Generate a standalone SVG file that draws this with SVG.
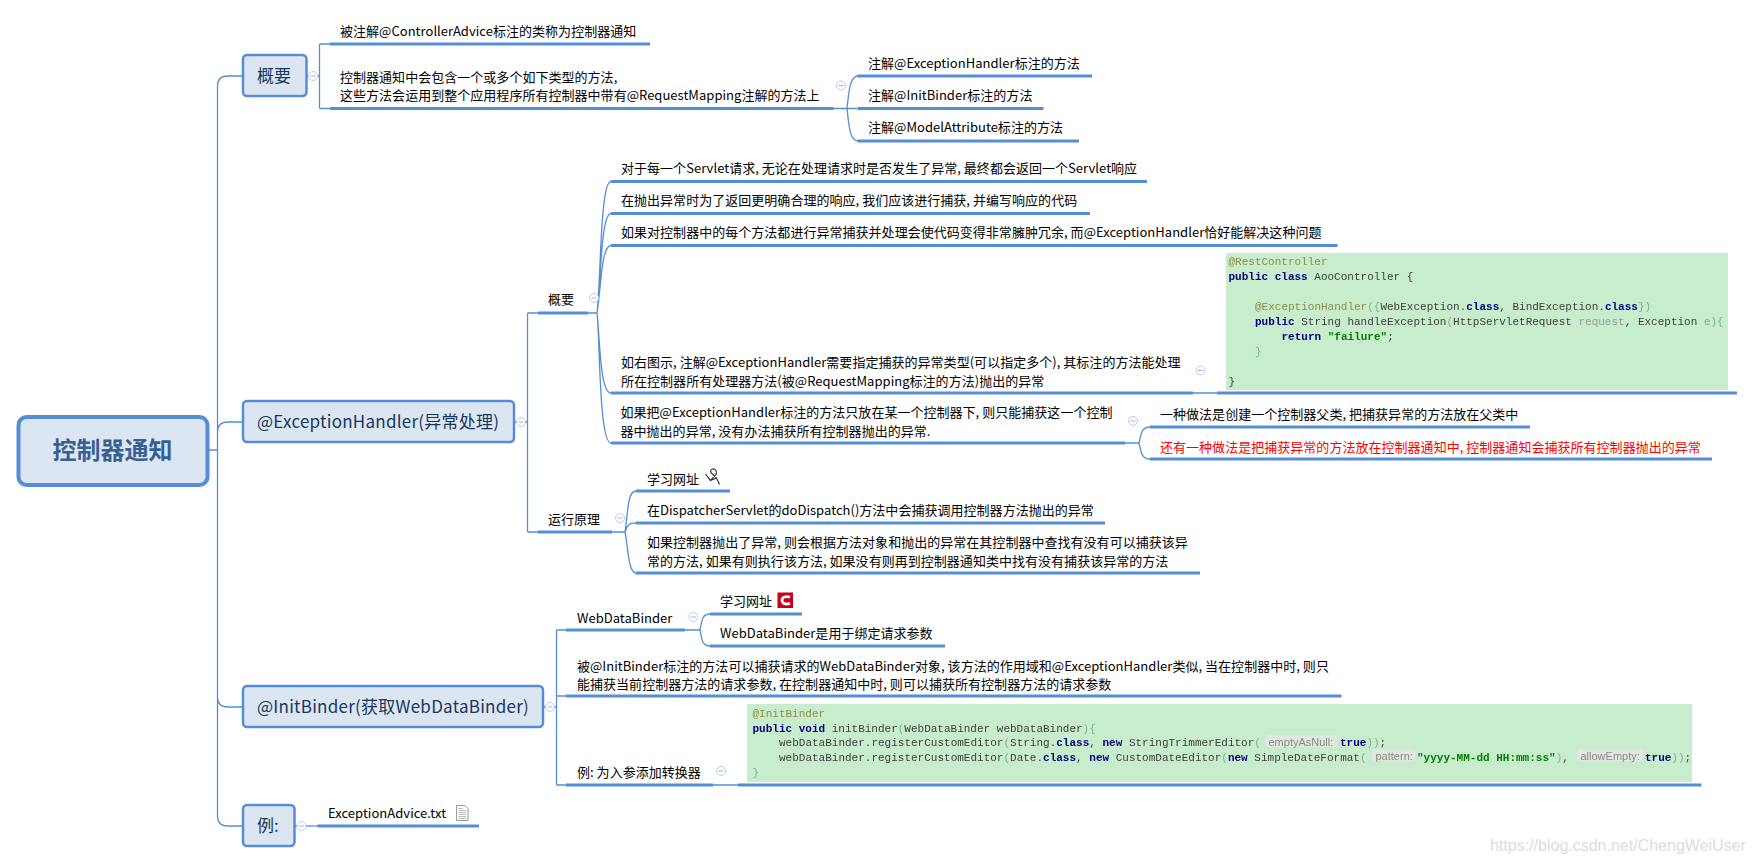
<svg xmlns="http://www.w3.org/2000/svg" width="1755" height="863" viewBox="0 0 1755 863">
<defs>
<filter id="soft" x="-2%" y="-5%" width="104%" height="110%"><feGaussianBlur stdDeviation="0.3"/></filter>
</defs>
<style>
text{font-family:"Noto Sans CJK SC","Noto Sans",sans-serif;font-size:13px;fill:#000;letter-spacing:.03px}
.top{fill:#dce6f2;stroke:#558ed5;stroke-width:2.5}
.topt{font-size:17px;fill:#17375e}
.wide{letter-spacing:.25px}
.roott{font-size:24px;font-weight:700;fill:#376092;text-anchor:middle}
.u{fill:none;stroke:#558ed5;stroke-width:3}
.c{fill:none;stroke:#558ed5;stroke-width:1.3}
.col{fill:#fff;stroke:#b9cdf0;stroke-width:1}
.colm{stroke:#9db8e6;stroke-width:1}
.code{fill:#c7edcc}
.code text,text.m{font-family:"Liberation Mono",monospace;font-size:11px;fill:#404040;white-space:pre;letter-spacing:0}
.an{fill:#8f8f45!important}
.k{fill:#000080!important;font-weight:700}
.s{fill:#008000!important;font-weight:700}
.g{fill:#9a9a9a!important}
.p{fill:#7fb0a0!important}
.hb{fill:#dfe9df}
.h{font-family:"Liberation Sans",sans-serif!important;font-size:12px;fill:#8a8a8a!important}
</style>
<rect width="1755" height="863" fill="#fff"/>
<g id="connectors">
<path class="c" d="M209 450H217.5M228 76Q217.5 76 217.5 86V816Q217.5 826 228 826H243M228 76H243M217.5 432Q217.5 422 228 422H243M217.5 697Q217.5 707 228 707H243"/>
<path class="c" d="M306 76H319.5M319.5 44V108.5M319.5 44H330M319.5 108.5H330"/>
<path class="c" d="M833 108.5H857M847 108.5C849 90 850 76 858 76M847 108.5C849 127 850 141 858 141"/>
<path class="c" d="M514 422H527.5M527.5 313V532M527.5 313H538M527.5 532H538"/>
<path class="c" d="M588 313H597C601 280 600 181.5 611 181.5M597 313C601 280 601 213.5 611 213.5M597 313C601 290 601 245.5 611 245.5M597 313C600 340 600 393 611 393M597 313C600 340 599 443 611 443M1192 393H1218"/>
<path class="c" d="M1125 443H1139C1141 435 1141 427 1150 427M1139 443C1141 451 1141 459 1150 459"/>
<path class="c" d="M612 532H625C628 515 627 491 636 491M625 532C628 525 628 523 636 523M625 532C628 545 628 573 636 573"/>
<path class="c" d="M543 707H556.5M556.5 630V785M556.5 630H567M556.5 696H567M556.5 785H567"/>
<path class="c" d="M685 630H700C702 620 702 614 710 614M700 630C702 640 702 646 710 646M713 785H739"/>
<path class="c" d="M294 826H318"/>
<path class="u" d="M330 44H650M330 108.5H833.5M857.5 76H1092M857.5 108.5H1043.5M857.5 141H1079M538 313H588M538 532H612M611 181.5H1147M611 213.5H1090M611 245.5H1337.5M611 393H1193M1217 393H1737M611 443H1125M1150 427H1530M1150 459H1712M636 491H730M636 523H1105M636 573H1200M566 630H685M566 696H1341.5M566 785H713M738 785H1701.5M710 614H802M710 646H945M317.5 826H479"/>
</g>
<g id="root"><rect x="18.5" y="417" width="189" height="68" rx="8" fill="#dce6f2" stroke="#558ed5" stroke-width="4"/><text class="roott" x="112.5" y="459">控制器通知</text></g>
<g id="n-overview"><rect class="top" x="243" y="55" width="63.500" height="41" rx="4"/><text class="topt" x="257" y="82">概要</text>
<circle class="col" cx="313" cy="76" r="4.500"/><path class="colm" d="M310.500 76H315.500"/></g>
<g id="n-exception"><rect class="top" x="243" y="401" width="271" height="41" rx="4"/><text class="topt wide" x="257" y="428">@ExceptionHandler(异常处理)</text>
<circle class="col" cx="521" cy="422" r="4.500"/><path class="colm" d="M518.500 422H523.500"/></g>
<g id="n-initbinder"><rect class="top" x="243" y="686" width="300" height="41" rx="4"/><text class="topt wide" x="257" y="713">@InitBinder(获取WebDataBinder)</text>
<circle class="col" cx="550" cy="707" r="4.500"/><path class="colm" d="M547.500 707H552.500"/></g>
<g id="n-example"><rect class="top" x="243" y="805" width="51.500" height="41" rx="4"/><text class="topt" x="257" y="832">例:</text>
<circle class="col" cx="301.500" cy="826" r="4.500"/><path class="colm" d="M299 826H304"/></g>
<g id="t-advice"><text x="340" y="36">被注解@ControllerAdvice标注的类称为控制器通知</text></g>
<g id="t-contains"><text x="340" y="82">控制器通知中会包含一个或多个如下类型的方法,</text><text x="340" y="100">这些方法会运用到整个应用程序所有控制器中带有@RequestMapping注解的方法上</text>
<circle class="col" cx="841" cy="85.500" r="4.500"/><path class="colm" d="M838.500 85.500H843.500"/></g>
<g id="t-a1"><text x="868" y="68">注解@ExceptionHandler标注的方法</text></g>
<g id="t-a2"><text x="868" y="100">注解@InitBinder标注的方法</text></g>
<g id="t-a3"><text x="868" y="132">注解@ModelAttribute标注的方法</text></g>
<g id="n-eh-overview"><text x="548" y="304">概要</text><circle class="col" cx="594" cy="298" r="4.500"/><path class="colm" d="M591.500 298H596.500"/></g>
<g id="t-e1"><text x="621" y="173">对于每一个Servlet请求, 无论在处理请求时是否发生了异常, 最终都会返回一个Servlet响应</text></g>
<g id="t-e2"><text x="621" y="205">在抛出异常时为了返回更明确合理的响应, 我们应该进行捕获, 并编写响应的代码</text></g>
<g id="t-e3"><text x="621" y="237">如果对控制器中的每个方法都进行异常捕获并处理会使代码变得非常臃肿冗余, 而@ExceptionHandler恰好能解决这种问题</text></g>
<g id="t-e4"><text x="621" y="367">如右图示, 注解@ExceptionHandler需要指定捕获的异常类型(可以指定多个), 其标注的方法能处理</text><text x="621" y="386">所在控制器所有处理器方法(被@RequestMapping标注的方法)抛出的异常</text>
<circle class="col" cx="1200.500" cy="370.500" r="4.500"/><path class="colm" d="M1198 370.500H1203"/></g>
<g id="code1"><g class="code"><rect x="1226" y="253" width="502" height="137"/>
<g filter="url(#soft)">
<text x="1228.500" y="265" class="an">@RestController</text>
<text x="1228.500" y="280"><tspan class="k">public class</tspan> AooController {</text>
<text x="1255" y="310"><tspan class="an">@ExceptionHandler</tspan><tspan class="p">({</tspan>WebException.<tspan class="k">class</tspan>, BindException.<tspan class="k">class</tspan><tspan class="p">})</tspan></text>
<text x="1255" y="325"><tspan class="k">public</tspan> String handleException<tspan class="p">(</tspan>HttpServletRequest <tspan class="g">request</tspan>, Exception <tspan class="g">e</tspan><tspan class="p">){</tspan></text>
<text x="1281.500" y="340"><tspan class="k">return</tspan> <tspan class="s">"failure"</tspan>;</text>
<text x="1255" y="355" class="p">}</text>
<text x="1228.500" y="385">}</text>
</g></g></g>
<g id="t-e5"><text x="620.500" y="417">如果把@ExceptionHandler标注的方法只放在某一个控制器下, 则只能捕获这一个控制</text><text x="620.500" y="436">器中抛出的异常, 没有办法捕获所有控制器抛出的异常.</text>
<circle class="col" cx="1133" cy="421" r="4.500"/><path class="colm" d="M1130.500 421H1135.500"/></g>
<g id="t-e6"><text x="1160" y="419">一种做法是创建一个控制器父类, 把捕获异常的方法放在父类中</text></g>
<g id="t-e7"><text x="1160" y="452" style="fill:#f00">还有一种做法是把捕获异常的方法放在控制器通知中, 控制器通知会捕获所有控制器抛出的异常</text></g>
<g id="n-principle"><text x="548" y="524">运行原理</text><circle class="col" cx="620" cy="518" r="4.500"/><path class="colm" d="M617.500 518H622.500"/></g>
<g id="t-p1"><text x="647" y="484">学习网址</text>
<path d="M705.500 474L710.500 480.500L716 474.500C717.500 471 715 468.500 712.500 469C710 469.500 710 472.500 712.500 474L716.500 478L719.500 484.500M710.500 480.500L716.500 478" fill="none" stroke="#333" stroke-width="1.200"/></g>
<g id="t-p2"><text x="647" y="515">在DispatcherServlet的doDispatch()方法中会捕获调用控制器方法抛出的异常</text></g>
<g id="t-p3"><text x="647" y="547">如果控制器抛出了异常, 则会根据方法对象和抛出的异常在其控制器中查找有没有可以捕获该异</text><text x="647" y="566">常的方法, 如果有则执行该方法, 如果没有则再到控制器通知类中找有没有捕获该异常的方法</text></g>
<g id="n-webdatabinder"><text x="577" y="623">WebDataBinder</text><circle class="col" cx="693.500" cy="617" r="4.500"/><path class="colm" d="M691 617H696"/></g>
<g id="t-w1"><text x="720" y="606">学习网址</text><rect x="777.500" y="592.500" width="15.500" height="15.500" fill="#c8001e"/><path d="M790 597.200C786 595.800 782 597 782 600.300C782 603.600 786 604.800 790 603.400" fill="none" stroke="#fff" stroke-width="2.800"/></g>
<g id="t-w2"><text x="720" y="638">WebDataBinder是用于绑定请求参数</text></g>
<g id="t-i1"><text x="577" y="671">被@InitBinder标注的方法可以捕获请求的WebDataBinder对象, 该方法的作用域和@ExceptionHandler类似, 当在控制器中时, 则只</text><text x="577" y="689">能捕获当前控制器方法的请求参数, 在控制器通知中时, 则可以捕获所有控制器方法的请求参数</text></g>
<g id="n-converter"><text x="577" y="777">例: 为入参添加转换器</text><circle class="col" cx="721" cy="771" r="4.500"/><path class="colm" d="M718.500 771H723.500"/></g>
<g id="code2"><g class="code"><rect x="747" y="704" width="945" height="78"/>
<rect class="hb" x="1265.500" y="735" width="71.500" height="12" rx="2"/><rect class="hb" x="1372" y="749.500" width="43" height="12" rx="2"/><rect class="hb" x="1577.500" y="749.500" width="65.500" height="12" rx="2"/>
<g filter="url(#soft)">
<text x="752.500" y="716.500" class="an">@InitBinder</text>
<text x="752.500" y="731.500"><tspan class="k">public void</tspan> initBinder<tspan class="p">(</tspan>WebDataBinder webDataBinder<tspan class="p">){</tspan></text>
<text x="779" y="746">webDataBinder.registerCustomEditor<tspan class="p">(</tspan>String.<tspan class="k">class</tspan>, <tspan class="k">new</tspan> StringTrimmerEditor<tspan class="p">(</tspan></text>
<text class="h" x="1268.500" y="745.500">emptyAsNull:</text>
<text x="1340" y="746"><tspan class="k">true</tspan><tspan class="p">))</tspan>;</text>
<text x="779" y="761">webDataBinder.registerCustomEditor<tspan class="p">(</tspan>Date.<tspan class="k">class</tspan>, <tspan class="k">new</tspan> CustomDateEditor<tspan class="p">(</tspan><tspan class="k">new</tspan> SimpleDateFormat<tspan class="p">(</tspan></text>
<text class="h" x="1375.500" y="760">pattern:</text>
<text x="1417" y="761"><tspan class="s">"yyyy-MM-dd HH:mm:ss"</tspan><tspan class="p">)</tspan>,</text>
<text class="h" x="1580.500" y="760">allowEmpty:</text>
<text x="1645" y="761"><tspan class="k">true</tspan><tspan class="p">))</tspan>;</text>
<text x="752.500" y="776" class="p">}</text>
</g></g></g>
<g id="t-file"><text x="328" y="818">ExceptionAdvice.txt</text>
<path d="M456.500 805.500H465L468 808.500V820.500H456.500Z" fill="#fff" stroke="#999"/><path d="M458.500 808.500H463M458.500 810.500H466M458.500 812.500H466M458.500 814.500H466M458.500 816.500H466M458.500 818.500H466" stroke="#aaa" stroke-width="0.800"/></g>
<text x="1490" y="851" style="font-family:'Liberation Sans',sans-serif;font-size:16px;fill:#dcdcdc;letter-spacing:0">https://blog.csdn.net/ChengWeiUser</text>
</svg>
